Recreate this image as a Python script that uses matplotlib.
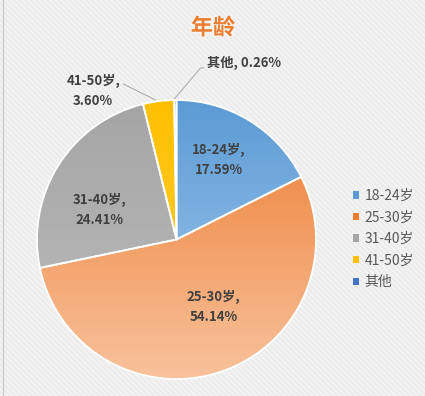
import numpy as np
import matplotlib
matplotlib.use("Agg")
import matplotlib.pyplot as plt
from matplotlib.patches import Rectangle, Patch
from matplotlib.colors import LinearSegmentedColormap
import matplotlib.patheffects as pe

plt.rcParams['font.family'] = ['Noto Sans CJK SC', 'DejaVu Sans']

# data
labels = ['18-24岁', '25-30岁', '31-40岁', '41-50岁', '其他']
values = [17.59, 54.14, 24.41, 3.60, 0.26]
pct_text = ['17.59%', '54.14%', '24.41%', '3.60%', '0.26%']

# (dark at top, light at bottom) per slice
grads = [('#5b9bd5', '#a9cdee'),
         ('#ed7d31', '#f8c29c'),
         ('#a5a5a5', '#bdbdbd'),
         ('#ffc000', '#ffd040'),
         ('#4472c4', '#5b87d0')]
solid = ['#5b9bd5', '#ed7d31', '#a5a5a5', '#ffc000', '#4472c4']

fig = plt.figure(figsize=(4.25, 3.96), dpi=100)
fig.patch.set_facecolor('#ececec')
fig.patches.append(Rectangle((0, 0), 1, 1, transform=fig.transFigure,
                             facecolor='#ececec', edgecolor='#f6f6f6',
                             hatch='\\' * 6, lw=0, zorder=-10))
fig.add_artist(plt.Line2D([2.5 / 425, 2.5 / 425], [0, 1], color='#c8c8c8', lw=0.8))

ax = fig.add_axes([37 / 425, 17 / 396, 279 / 425, 279 / 396])
ax.set_facecolor('none')

wedges, _ = ax.pie(values, startangle=90, counterclock=False, radius=1,
                   colors=solid,
                   wedgeprops=dict(edgecolor='white', linewidth=1.3))

yy = np.linspace(0, 1, 256).reshape(-1, 1)
for w, (c_top, c_bot) in zip(wedges, grads):
    cmap = LinearSegmentedColormap.from_list('g', [c_bot, c_top])
    im = ax.imshow(yy, extent=[-1, 1, -1, 1], origin='lower', cmap=cmap,
                   aspect='auto', zorder=2, interpolation='bilinear')
    im.set_clip_path(w)
    w.set_facecolor('none')
    w.set_zorder(3)

ax.set_xlim(-1, 1)
ax.set_ylim(-1, 1)
ax.set_aspect('equal')
ax.axis('off')

txt = dict(ha='center', va='center', fontsize=9.5, fontweight='bold',
           color='#404040', linespacing=1.55)
ax.text(0.302, 0.568, labels[0] + ',\n' + pct_text[0], **txt)
ax.text(0.266, -0.482, labels[1] + ',\n' + pct_text[1], **txt)
ax.text(-0.554, 0.209, labels[2] + ',\n' + pct_text[2], **txt)
ax.text(-0.597, 1.065, labels[3] + ',\n' + pct_text[3], clip_on=False, **txt)
ax.text(0.482, 1.263, labels[4] + ', ' + pct_text[4], clip_on=False, **txt)

# leader lines
ax.plot([-0.381, -0.151], [1.115, 1.0], color='#a6a6a6', lw=0.7, clip_on=False)
ax.plot([0.194, 0.173, -0.022], [1.23, 1.23, 1.0], color='#a6a6a6', lw=0.7,
        clip_on=False)

fig.text(213 / 425, 1 - 28 / 396, '年龄', ha='center', va='center',
         fontsize=16, fontweight='bold', color='#ed7d31',
         path_effects=[pe.withStroke(linewidth=2, foreground='#f6f6f6')])

handles = [Patch(facecolor=c, edgecolor='none') for c in solid]
fig.legend(handles, labels, loc='center left',
           bbox_to_anchor=(353 / 425, 1 - 239 / 396), frameon=False,
           fontsize=10, handlelength=0.45, handleheight=0.45, handletextpad=0.4,
           labelspacing=0.55, borderpad=0, borderaxespad=0, labelcolor='#595959')

fig.savefig('out.png', dpi=100, facecolor=fig.get_facecolor())
